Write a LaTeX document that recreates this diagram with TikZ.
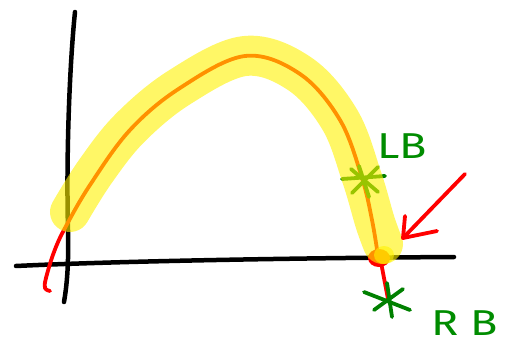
\documentclass[tikz,border=0pt]{standalone}
\usepackage{fontspec}
\setsansfont{Fira Sans}
\begin{document}
\begin{tikzpicture}[x=1pt,y=-1pt,
  axisline/.style={line width=4.5pt,black,line cap=round,line join=round},
  curveline/.style={line width=3.8pt,red,line cap=round,line join=round},
  greenstar/.style={line width=3.8pt,green!50!black,line cap=round},
  highlight/.style={line width=40pt,yellow,opacity=0.6,line cap=round,line join=round},
  labeltext/.style={text=green!55!black,font=\sffamily\fontsize{36}{36}\selectfont,inner sep=0pt,xscale=1.25}]
\useasboundingbox (0,0) rectangle (514,345);
% axes
\coordinate (ytop) at (75,12);
\coordinate (ybot) at (64,302);
\coordinate (xl) at (16,266);
\coordinate (xr) at (454,257);
\draw[axisline] (ytop) .. controls (70,60) and (66,150) .. (68,230) .. controls (69,270) and (66,290) .. (ybot);
\draw[axisline] (xl) .. controls (120,261) and (300,258) .. (xr);
% curve
\draw[curveline] plot[smooth,tension=0.6] coordinates {(50,291) (45,288) (46,278) (54,252) (65,228) (90,185) (130,130) (180,88) (245,56) (300,74) (340,120) (362,178) (372,220) (378,256)};
\coordinate (dotc) at (380,257);
\coordinate (rbc) at (388,299);
\draw[curveline] (dotc) -- (rbc);
\fill[red] (379,258) ellipse (11pt and 9pt);
% LB star
\coordinate (lbc) at (364,180);
\draw[greenstar] (342,179) -- (385,176);
\draw[greenstar] (359,166) -- (369,197);
\draw[greenstar] (351,169) -- (378,192);
\draw[greenstar] (378,167) -- (352,193);
% highlight
\draw[highlight] plot[smooth,tension=0.6] coordinates {(70,212) (95,172) (130,128) (180,87) (245,56) (300,74) (340,120) (362,178) (375,222) (383,244)};
\fill[yellow,opacity=0.6] (384,255) ellipse (10pt and 9pt);
% RB star
\draw[greenstar] (364,292) -- (410,310);
\draw[greenstar] (387,283) -- (392,317);
\draw[greenstar] (403,289) -- (374,310);
% arrow
\coordinate (arrs) at (465,174);
\coordinate (arrt) at (403,238);
\draw[curveline] (arrs) -- (arrt);
\draw[curveline] (405,216) -- (arrt) -- (437,231);
% labels
\node[labeltext,anchor=base west] (lb) at (377,158) {LB};
\node[labeltext,anchor=base west] (rb) at (431,335) {R B};
\end{tikzpicture}
\end{document}
